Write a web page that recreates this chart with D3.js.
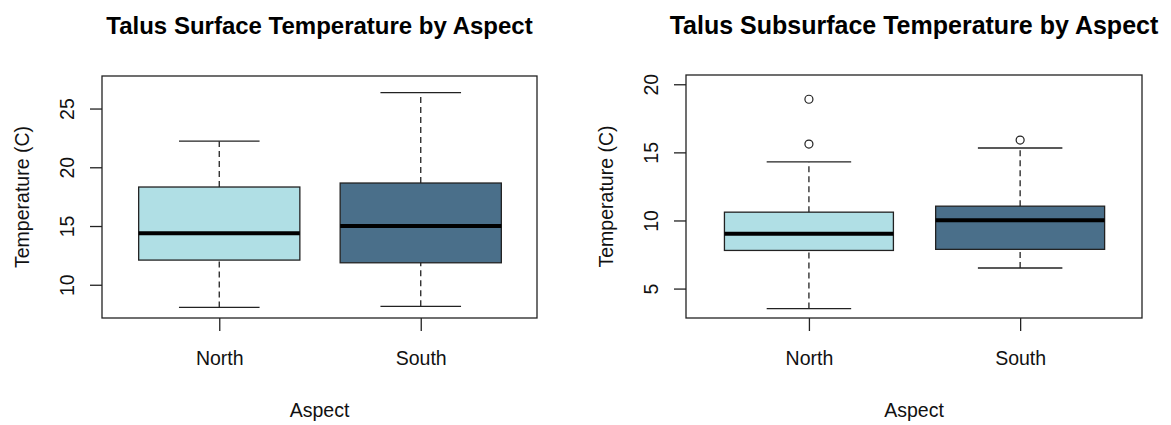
<!DOCTYPE html>
<html>
<head>
<meta charset="utf-8">
<script src="https://cdn.jsdelivr.net/npm/d3@7"></script>
<style>
  body { margin: 0; background: #fff; }
  svg { font-family: "Liberation Sans", Arial, sans-serif; }
</style>
</head>
<body>
<div id="chart"></div>
<script>
var W = 1171, H = 425;

// categories and box stats: [lower whisker, q1, median, q3, upper whisker]
var aspects = ["North", "South"];
var fills = ["#b0dfe5", "#4a6f8a"];

var surfaceStats = [
  [8.07, 12.1, 14.39, 18.32, 22.22],
  [8.16, 11.87, 15.0, 18.66, 26.36]
];
var surfaceOutliers = [[], []];
var surfaceTicks = [10, 15, 20, 25];

var subsurfaceStats = [
  [3.53, 7.8, 9.02, 10.61, 14.3],
  [6.51, 7.88, 10.02, 11.05, 15.32]
];
var subsurfaceOutliers = [[18.9, 15.61], [15.9]];
var subsurfaceTicks = [5, 10, 15, 20];

var svg = d3.select("#chart").append("svg")
  .attr("width", W)
  .attr("height", H);

function drawPanel(o) {
  var x = d3.scaleLinear().domain([0.418, 2.577]).range([o.left, o.right]);
  var y = d3.scaleLinear().domain(o.ylim).range([o.bottom, o.top]);
  var g = svg.append("g");
  var ink = "#222";

  // title
  g.append("text")
    .attr("x", (o.left + o.right) / 2)
    .attr("y", 34)
    .attr("text-anchor", "middle")
    .style("font-weight", "bold")
    .style("font-size", o.titleSize + "px")
    .text(o.title);

  // boxes
  o.stats.forEach(function(s, i) {
    var cx = x(i + 1);
    var bw = x(1.4) - x(1);   // half box width
    var cw = x(1.2) - x(1);   // half cap width
    var bg = g.append("g");

    // whiskers (dashed)
    bg.append("line")
      .attr("x1", cx).attr("x2", cx)
      .attr("y1", y(s[0])).attr("y2", y(s[1]))
      .attr("stroke", ink).attr("stroke-width", 1.3)
      .attr("stroke-dasharray", "6,4");
    bg.append("line")
      .attr("x1", cx).attr("x2", cx)
      .attr("y1", y(s[3])).attr("y2", y(s[4]))
      .attr("stroke", ink).attr("stroke-width", 1.3)
      .attr("stroke-dasharray", "6,4");
    // caps
    [s[0], s[4]].forEach(function(v) {
      bg.append("line")
        .attr("x1", cx - cw).attr("x2", cx + cw)
        .attr("y1", y(v)).attr("y2", y(v))
        .attr("stroke", ink).attr("stroke-width", 1.3);
    });
    // box
    bg.append("rect")
      .attr("x", cx - bw)
      .attr("y", y(s[3]))
      .attr("width", 2 * bw)
      .attr("height", y(s[1]) - y(s[3]))
      .attr("fill", fills[i])
      .attr("stroke", ink)
      .attr("stroke-width", 1.3);
    // median
    bg.append("line")
      .attr("x1", cx - bw).attr("x2", cx + bw)
      .attr("y1", y(s[2])).attr("y2", y(s[2]))
      .attr("stroke", "#000").attr("stroke-width", 4);
    // outliers
    bg.selectAll("circle")
      .data(o.outliers[i])
      .enter().append("circle")
      .attr("cx", cx)
      .attr("cy", function(d) { return y(d); })
      .attr("r", 4)
      .attr("fill", "#fff")
      .attr("stroke", ink)
      .attr("stroke-width", 1.2);
  });

  // frame
  g.append("rect")
    .attr("x", o.left).attr("y", o.top)
    .attr("width", o.right - o.left)
    .attr("height", o.bottom - o.top)
    .attr("fill", "none")
    .attr("stroke", ink)
    .attr("stroke-width", 1.3);

  // y axis
  var yAxis = d3.axisLeft(y).tickValues(o.ticks).tickSize(12).tickPadding(0);
  var ya = g.append("g")
    .attr("transform", "translate(" + o.left + ",0)")
    .call(yAxis);
  ya.select(".domain").remove();
  ya.attr("font-family", null).attr("font-size", null);
  ya.selectAll(".tick line").attr("stroke", ink).attr("stroke-width", 1.3);
  ya.selectAll(".tick text")
    .attr("x", 0).attr("y", 0).attr("dy", null)
    .attr("transform", "translate(-35,0) rotate(-90)")
    .attr("text-anchor", "middle")
    .attr("dominant-baseline", "central")
    .attr("fill", "#111")
    .style("font-size", "19.5px");

  // x axis
  var xAxis = d3.axisBottom(x).tickValues([1, 2])
    .tickFormat(function(d) { return aspects[d - 1]; })
    .tickSize(13).tickPadding(20);
  var xa = g.append("g")
    .attr("transform", "translate(0," + o.bottom + ")")
    .call(xAxis);
  xa.select(".domain").remove();
  xa.attr("font-family", null).attr("font-size", null);
  xa.selectAll(".tick line").attr("stroke", ink).attr("stroke-width", 1.3);
  xa.selectAll(".tick text")
    .attr("fill", "#111")
    .style("font-size", "19.5px");

  // axis titles
  g.append("text")
    .attr("x", (o.left + o.right) / 2)
    .attr("y", 417)
    .attr("text-anchor", "middle")
    .attr("fill", "#111")
    .style("font-size", "19.5px")
    .text("Aspect");
  g.append("text")
    .attr("transform", "translate(" + (o.left - 80) + "," + ((o.top + o.bottom) / 2) + ") rotate(-90)")
    .attr("text-anchor", "middle")
    .attr("dominant-baseline", "central")
    .attr("fill", "#111")
    .style("font-size", "19.5px")
    .text("Temperature (C)");
}

drawPanel({
  title: "Talus Surface Temperature by Aspect",
  titleSize: 24,
  left: 102, right: 537, top: 76, bottom: 318,
  ylim: [7.17, 27.77],
  ticks: surfaceTicks,
  stats: surfaceStats,
  outliers: surfaceOutliers
});

drawPanel({
  title: "Talus Subsurface Temperature by Aspect",
  titleSize: 25,
  left: 686, right: 1142, top: 75, bottom: 318,
  ylim: [2.84, 20.68],
  ticks: subsurfaceTicks,
  stats: subsurfaceStats,
  outliers: subsurfaceOutliers
});
</script>
</body>
</html>
